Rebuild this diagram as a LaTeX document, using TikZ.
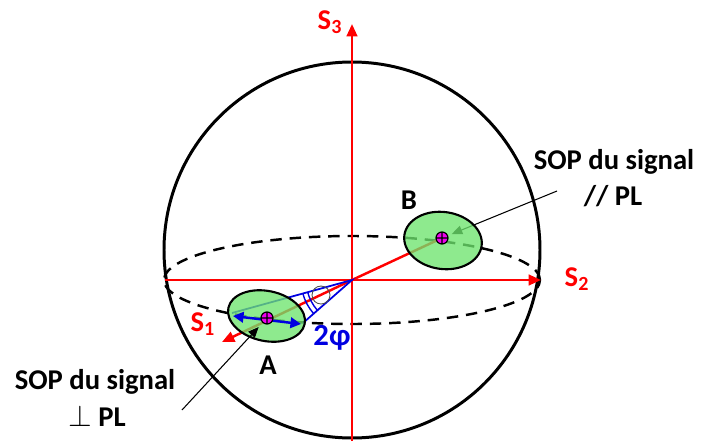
\documentclass[tikz,border=0pt]{standalone}
\usepackage{fontspec}
\setmainfont{Carlito}
\usetikzlibrary{arrows.meta}
\definecolor{axisred}{RGB}{255,0,0}
\definecolor{conebl}{RGB}{0,0,225}
\definecolor{spotgr}{RGB}{110,228,110}
\definecolor{sopmag}{RGB}{240,0,240}
\newcommand{\stokes}[1]{S\textsubscript{#1}}

\begin{document}
\begin{tikzpicture}[x=0.02cm,y=0.02cm,
  font=\fontsize{16.3}{20}\selectfont\bfseries,
  axis/.style={axisred,line width=1.4pt,-{Triangle[length=7pt,width=6pt]}},
  pointer/.style={black,line width=0.6pt,-{Triangle[length=6pt,width=5pt]}},
  spot/.style={draw=black,line width=1.2pt,fill=spotgr,fill opacity=0.78},
  lbl/.style={inner sep=0pt}]
\useasboundingbox (0,0) rectangle (701,441);
\coordinate (O) at (352,161);
\coordinate (cA) at (267,123);
\coordinate (cB) at (442,203);
\coordinate (begS3) at (352,0);
\coordinate (endS3) at (352,417);
\coordinate (begS2) at (165,161);
\coordinate (endS2) at (541,161);
\coordinate (endS1) at (222,99);
% sphere and equator
\draw[line width=1.7pt] (352,191) circle (188);
\draw[line width=1.4pt,dash pattern=on 6.5pt off 4.5pt] (O) ellipse (188 and 44);
% axes
\draw[axis] (begS3) -- (endS3);
\draw[axis] (begS2) -- (endS2);
\draw[axis] (O) -- (endS1);
\draw[axisred,line width=1.4pt] (O) -- (cB);
% cone 2phi
\coordinate (coneU) at (232,128);
\coordinate (coneL) at (303,118);
\draw[conebl,line width=1pt] (coneU) -- (O) -- (coneL);
\draw[conebl,line width=0.8pt] (O) ++(195:46) arc (195:221:46);
\draw[conebl,line width=0.8pt] (O) ++(195:51) arc (195:221:51);
\draw[gray!60!black,line width=0.5pt] (321,146) circle (9);
% pointer to B
\coordinate (tailB) at (557,250);
\draw[pointer,shorten >=6pt] (tailB) -- (cB);
% states A and B
\draw[spot,rotate around={-12:(266.5,125)}] (266.5,125) ellipse (39 and 25);
\draw[spot,rotate around={-8:(443,200.5)}] (443,200.5) ellipse (39 and 28.5);
\coordinate (dblL) at (233,125);
\coordinate (dblR) at (301,117);
\draw[conebl,line width=1.4pt,{Triangle[length=6pt,width=6pt]}-{Triangle[length=6pt,width=6pt]}] (dblL) -- (dblR);
\foreach \c in {cA,cB} {
  \fill[sopmag] (\c) circle (6);
  \draw[line width=0.7pt] (\c) circle (6) (\c) ++(-6,0) -- ++(12,0) (\c) ++(0,-6) -- ++(0,12);
}
% pointer to A
\coordinate (tailA) at (182,31);
\draw[pointer,shorten >=7pt] (tailA) -- (cA);
% labels
\node[lbl,axisred] (S3) at (330,419) {\stokes{3}};
\node[lbl,axisred] (S2) at (577,162) {\stokes{2}};
\node[lbl,axisred] (S1) at (203,117) {\stokes{1}};
\node[lbl] (labA) at (268,76) {A};
\node[lbl] (labB) at (409,241) {B};
\node[lbl,conebl,font=\fontsize{17.5}{20}\selectfont\bfseries] (phi) at (332,103) {2φ};
\node[lbl] (sopB1) at (614,279) {SOP du signal};
\node[lbl] (sopB2) at (613,245) {// PL};
\node[lbl] (sopA1) at (95,59) {SOP du signal};
\node[lbl] (sopA2) at (97,25) {$\perp$ PL};
\end{tikzpicture}
\end{document}
